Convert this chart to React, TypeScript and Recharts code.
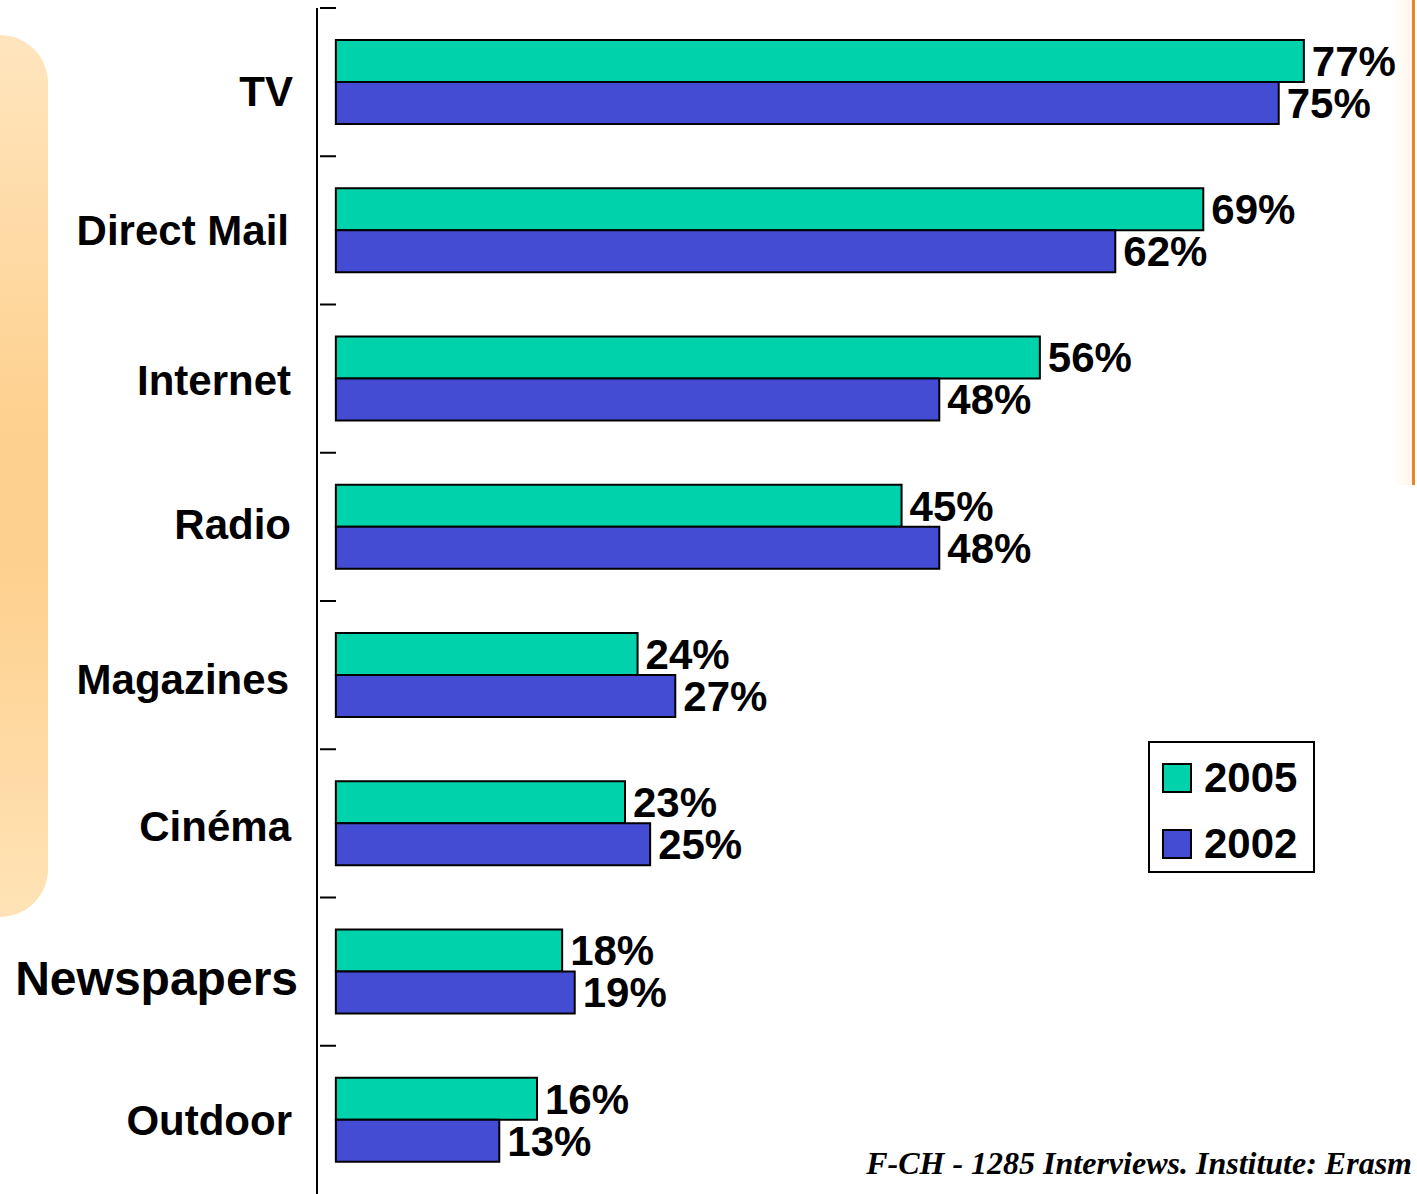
import React from "react";
import { BarChart, Bar, XAxis, YAxis, LabelList } from "recharts";

// ---------------------------------------------------------------------------
// Data
// ---------------------------------------------------------------------------
const categories = ["TV", "Direct Mail", "Internet", "Radio", "Magazines", "Cinéma", "Newspapers", "Outdoor"];
const values2005 = [77, 69, 56, 45, 24, 23, 18, 16];
const values2002 = [75, 62, 48, 48, 27, 25, 19, 13];
const seriesNames = ["2005", "2002"];
const footnote = "F-CH - 1285 Interviews. Institute: Erasm";

// ---------------------------------------------------------------------------
// Styles
// ---------------------------------------------------------------------------
const COLORS = {
    y2005: "#00D3AB",
    y2002: "#444CD4",
    ink: "#000000",
};
const FONT = "'Liberation Sans', Arial, Helvetica, sans-serif";
const CHART_W = 1417;
const CHART_H = 1194;
const MARGIN = { top: 8, right: 0, bottom: 0, left: 0 };
const AXIS_W = 317;
const BAND = (CHART_H - MARGIN.top - MARGIN.bottom) / categories.length;

// small per-label tweaks so the category names sit like the original slide
const LABEL_TWEAK: Record<string, { size: number; dy: number; dx: number }> = {
    TV: { size: 42, dy: 9, dx: 2 },
    "Direct Mail": { size: 42, dy: 0, dx: -2 },
    Internet: { size: 42, dy: 2, dx: 0 },
    Radio: { size: 42, dy: -2, dx: 0 },
    Magazines: { size: 42, dy: 4, dx: -2 },
    "Cinéma": { size: 42, dy: 3, dx: 0 },
    Newspapers: { size: 48, dy: 7, dx: 7 },
    Outdoor: { size: 42, dy: 1, dx: 1 },
};

const data = categories.map((name, i) => ({
    name,
    v2005: values2005[i],
    v2002: values2002[i],
}));

// Category tick: label on the left plus the little boundary mark above each band
function CategoryTick(props: any) {
    const { x, y, payload } = props;
    const tw = LABEL_TWEAK[payload.value] || { size: 42, dy: 0, dx: 0 };
    const top = y - BAND / 2;
    return (
        <g>
            <line x1={x + 3} x2={x + 19} y1={top} y2={top} stroke={COLORS.ink} strokeWidth={2} />
            <text
                x={x - 26 + tw.dx}
                y={y + tw.dy}
                textAnchor="end"
                dominantBaseline="central"
                fontFamily={FONT}
                fontWeight="bold"
                fontSize={tw.size}
                fill={COLORS.ink}
            >
                {payload.value}
            </text>
        </g>
    );
}

function LegendBox() {
    const fills = [COLORS.y2005, COLORS.y2002];
    return (
        <div
            style={{
                position: "absolute",
                left: 1148,
                top: 741,
                width: 163,
                height: 128,
                border: "2px solid #000",
                background: "#fff",
                fontFamily: FONT,
                fontWeight: "bold",
                fontSize: 42,
            }}
        >
            {seriesNames.map((s, i) => (
                <div
                    key={s}
                    style={{ position: "absolute", left: 12, top: 20 + i * 66, display: "flex", alignItems: "center" }}
                >
                    <div style={{ width: 26, height: 26, background: fills[i], border: "2px solid #000" }} />
                    <span style={{ marginLeft: 12, lineHeight: "30px" }}>{s}</span>
                </div>
            ))}
        </div>
    );
}

export default function App() {
    return (
        <div
            style={{
                position: "absolute",
                left: 0,
                top: 0,
                width: CHART_W,
                height: CHART_H,
                overflow: "hidden",
                background: "#fff",
            }}
        >
            {/* orange slide decoration, left */}
            <div
                style={{
                    position: "absolute",
                    left: 0,
                    top: 35,
                    width: 48,
                    height: 882,
                    borderRadius: "0 48px 48px 0",
                    background: "linear-gradient(to bottom, #FFE5BE 0%, #FED08E 45%, #FED08E 60%, #FFE3B6 100%)",
                }}
            />
            {/* orange slide decoration, right */}
            <div
                style={{
                    position: "absolute",
                    left: 1392,
                    top: 0,
                    width: 20,
                    height: 485,
                    background: "linear-gradient(to right, rgba(255,240,220,0) 0%, #FFF6EA 100%)",
                }}
            />
            <div style={{ position: "absolute", left: 1412, top: 0, width: 3, height: 485, background: "#E8852A" }} />

            <div style={{ position: "absolute", left: 0, top: 0 }}>
                <BarChart
                    width={CHART_W}
                    height={CHART_H}
                    data={data}
                    layout="vertical"
                    margin={MARGIN}
                    barSize={42}
                    barGap={0}
                >
                    <XAxis type="number" domain={[-1.5, 86]} hide />
                    <YAxis
                        type="category"
                        dataKey="name"
                        width={AXIS_W}
                        axisLine={{ stroke: COLORS.ink, strokeWidth: 2 }}
                        tickLine={false}
                        tickSize={0}
                        tickMargin={0}
                        interval={0}
                        tick={<CategoryTick />}
                    />
                    <Bar
                        dataKey="v2005"
                        name={seriesNames[0]}
                        fill={COLORS.y2005}
                        stroke={COLORS.ink}
                        strokeWidth={2}
                        isAnimationActive={false}
                    >
                        <LabelList
                            dataKey="v2005"
                            position="right"
                            offset={8}
                            formatter={(v: any) => `${v}%`}
                            fill={COLORS.ink}
                            fontFamily={FONT}
                            fontWeight="bold"
                            fontSize={42}
                        />
                    </Bar>
                    <Bar
                        dataKey="v2002"
                        name={seriesNames[1]}
                        fill={COLORS.y2002}
                        stroke={COLORS.ink}
                        strokeWidth={2}
                        isAnimationActive={false}
                    >
                        <LabelList
                            dataKey="v2002"
                            position="right"
                            offset={8}
                            formatter={(v: any) => `${v}%`}
                            fill={COLORS.ink}
                            fontFamily={FONT}
                            fontWeight="bold"
                            fontSize={42}
                        />
                    </Bar>
                </BarChart>
            </div>

            <LegendBox />

            <div
                style={{
                    position: "absolute",
                    right: 5,
                    top: 1143,
                    fontFamily: "'Liberation Serif', 'Times New Roman', serif",
                    fontStyle: "italic",
                    fontWeight: "bold",
                    fontSize: 32,
                    whiteSpace: "nowrap",
                    lineHeight: "40px",
                }}
            >
                {footnote}
            </div>
        </div>
    );
}
